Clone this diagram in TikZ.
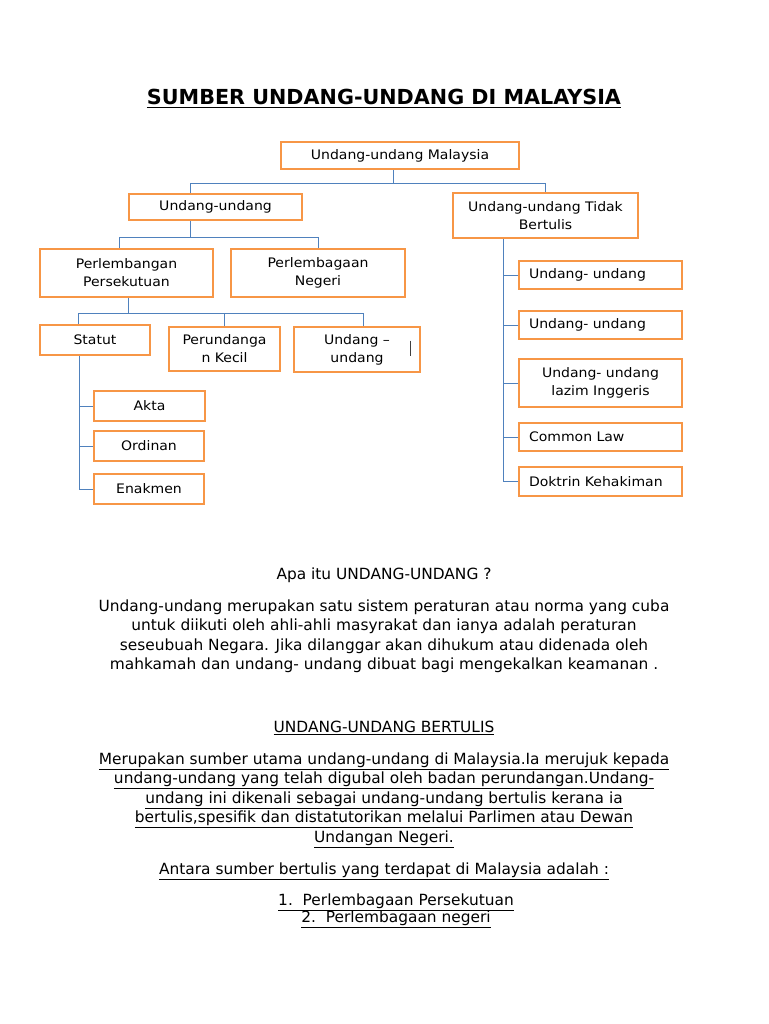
\documentclass[tikz,border=0pt]{standalone}
\usepackage{fontspec}
\setmainfont{DejaVu Sans}
\newfontfamily\boxfont[FakeStretch=1.07,Ligatures=TeX]{DejaVu Sans}
\usepackage{tikz}
\usetikzlibrary{calc}
\definecolor{boxorange}{RGB}{247,150,70}
\definecolor{linkblue}{RGB}{79,129,189}
\newcommand{\titleul}[1]{\setbox0\hbox{#1}\rlap{\rule[-3.5pt]{\wd0}{1.6pt}}\box0}

\begin{document}
\begin{tikzpicture}[x=1pt,y=-1pt,
  box/.style={draw=boxorange,line width=2.2pt,align=center,inner sep=2pt,
    font=\boxfont\fontsize{13.1}{18}\selectfont},
  leftbox/.style={box,align=left,text width=143pt,inner xsep=10pt},
  link/.style={draw=linkblue,line width=0.9pt},
  para/.style={align=center,font=\fontsize{15.4}{19.5}\selectfont}]
\useasboundingbox[fill=white] (0,0) rectangle (768,1024);

\node (title) at (384,99) {\fontsize{20.7}{24}\selectfont\bfseries\titleul{SUMBER UNDANG-UNDANG DI MALAYSIA}};

% top of the tree
\node[box,minimum width=238pt,minimum height=27pt] (mal) at (400,155.5) {Undang-undang Malaysia};
\node[box,minimum width=173pt,minimum height=26pt] (uu) at (215.5,207) {Undang-undang};
\node[box,minimum width=185pt,minimum height=45pt] (utb) at (545.5,215.5) {Undang-undang Tidak\\Bertulis};

% written law
\node[box,minimum width=173pt,minimum height=48pt] (pp) at (126.5,273) {Perlembangan\\Persekutuan};
\node[box,minimum width=174pt,minimum height=48pt] (pn) at (318,273) {Perlembagaan\\Negeri};
\node[box,minimum width=110pt,minimum height=30pt] (stat) at (95,340) {Statut};
\node[box,minimum width=111pt,minimum height=44pt] (pk) at (224.5,349) {Perundanga\\n Kecil};
\node[box,minimum width=126pt,minimum height=45pt] (uud) at (357,349.5) {Undang –\\undang};
\node[box,minimum width=111pt,minimum height=30pt] (akta) at (149.5,406) {Akta};
\node[box,minimum width=110pt,minimum height=30pt] (ord) at (149,446) {Ordinan};
\node[box,minimum width=110pt,minimum height=30pt] (enak) at (149,489) {Enakmen};

% unwritten law
\node[leftbox,minimum height=28pt] (r1) at (600.5,275) {Undang- undang};
\node[leftbox,minimum height=28pt] (r2) at (600.5,325) {Undang- undang};
\node[box,minimum width=163pt,minimum height=48pt] (r3) at (600.5,383) {Undang- undang\\lazim Inggeris};
\node[leftbox,minimum height=28pt] (r4) at (600.5,437) {Common Law};
\node[leftbox,minimum height=29pt] (r5) at (600.5,481.5) {Doktrin Kehakiman};

% connectors
\coordinate (bus1) at ($(mal.south)+(-7,13)$);
\draw[link] ([xshift=-7pt]mal.south) -- (bus1);
\draw[link] ([xshift=-25.5pt]uu.north) |- (bus1) -| (utb.north);
\coordinate (bus2) at ($(uu.south)+(-25.5,16)$);
\draw[link] ([xshift=-25.5pt]uu.south) -- (bus2);
\draw[link] ([xshift=-7.5pt]pp.north) |- (bus2) -| (pn.north);
\coordinate (bus3) at ($(pp.south)+(1.5,15)$);
\draw[link] ([xshift=1.5pt]pp.south) -- (bus3);
\draw[link] ([xshift=-17pt]stat.north) |- (bus3) -| ([xshift=6pt]uud.north);
\draw[link] (pk.north) -- (pk.north |- bus3);
\foreach \n in {akta,ord,enak}
  \draw[link] ([xshift=-16pt]stat.south) |- (\n.west);
\foreach \n in {r1,r2,r3,r4,r5}
  \draw[link] ([xshift=-42.5pt]utb.south) |- (\n.west);
\draw[line width=0.8pt,black!75] ($(uud.east)+(-11,-9)$) -- ++(0,15);

% text below
\node[para] (q) at (384,575) {Apa itu UNDANG-UNDANG ?};
\node[para] (def) at (384,636) {Undang-undang merupakan satu sistem peraturan atau norma yang cuba\\
untuk diikuti oleh ahli-ahli masyrakat dan ianya adalah peraturan\\
seseubuah Negara. Jika dilanggar akan dihukum atau didenada oleh\\
mahkamah dan undang- undang dibuat bagi mengekalkan keamanan .};
\node[para] (hd) at (384,728) {\underline{UNDANG-UNDANG BERTULIS}};
\node[para] (ub) at (384,800) {\underline{Merupakan sumber utama undang-undang di Malaysia.Ia merujuk kepada}\\
\underline{undang-undang yang telah digubal oleh badan perundangan.Undang-}\\
\underline{undang ini dikenali sebagai undang-undang bertulis kerana ia}\\
\underline{bertulis,spesifik dan distatutorikan melalui Parlimen atau Dewan}\\
\underline{Undangan Negeri.}};
\node[para] (ant) at (384,871) {\underline{Antara sumber bertulis yang terdapat di Malaysia adalah :}};
\node[para,font=\fontsize{15.4}{17}\selectfont] (lst) at (396,910.5) {\underline{1.\ \ Perlembagaan Persekutuan}\\
\underline{2.\ \ Perlembagaan negeri}};
\end{tikzpicture}
\end{document}
